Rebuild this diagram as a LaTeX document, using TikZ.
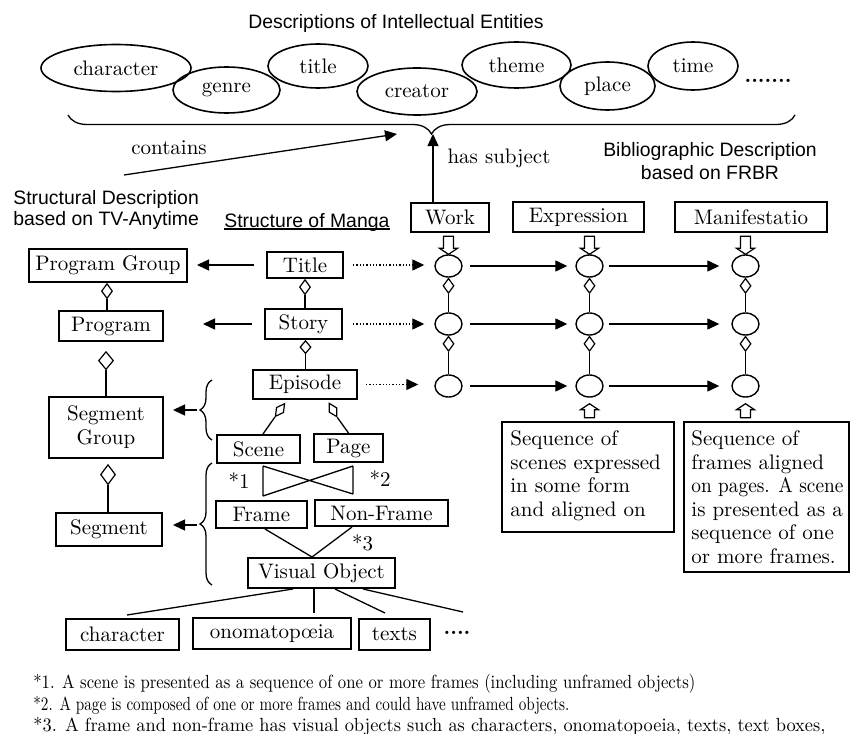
\documentclass[tikz,border=0pt]{standalone}
\usepackage{fontspec}
\setsansfont{Liberation Sans}
\usetikzlibrary{shapes.geometric,arrows.meta,decorations.pathreplacing,calc}
\begin{document}
\begin{tikzpicture}[x=0.5pt,y=-0.5pt,
  rm/.style={font=\fontsize{10.5}{12}\selectfont},
  box/.style={draw,line width=1pt,inner sep=0pt,rm},
  ell/.style={draw,ellipse,line width=0.8pt,inner sep=0pt,rm},
  circ/.style={draw,ellipse,line width=0.7pt,minimum width=13.5pt,minimum height=11pt,inner sep=0pt},
  dia/.style={draw,diamond,line width=0.6pt,minimum width=5.5pt,minimum height=7.5pt,inner sep=0pt,fill=white},
  conn/.style={line width=0.65pt},
  arr/.style={conn,-{Triangle[length=6pt,width=5.5pt]}},
  darr/.style={arr,densely dotted},
  sans/.style={inner sep=0pt,font=\sffamily\fontsize{9.7}{11}\selectfont},
  hdown/.pic={\draw[line width=0.6pt,fill=white] (-5,0) -- (5,0) -- (5,12) -- (9,12) -- (0,18) -- (-9,12) -- (-5,12) -- cycle;},
  hup/.pic={\draw[line width=0.6pt,fill=white] (0,0) -- (9,6) -- (5,6) -- (5,14) -- (-5,14) -- (-5,6) -- (-9,6) -- cycle;}
]
\useasboundingbox (0,0) rectangle (850,733);

% heading
\node[sans,anchor=base] (hdr) at (396,29) {Descriptions of Intellectual Entities};

% ellipses
\node[ell,minimum width=75pt,minimum height=23.5pt] (eChar) at (116,68) {character};
\node[ell,minimum width=53.5pt,minimum height=23pt] (eGenre) at (226.5,90) {genre};
\node[ell,minimum width=50pt,minimum height=22pt] (eTitle) at (318,66) {title};
\node[ell,minimum width=60pt,minimum height=23.5pt] (eCreator) at (417,91.5) {creator};
\node[ell,minimum width=54.5pt,minimum height=23pt] (eTheme) at (516.5,65) {theme};
\node[ell,minimum width=47.5pt,minimum height=24pt] (ePlace) at (607.5,86) {place};
\node[ell,minimum width=45pt,minimum height=24pt] (eTime) at (693,66) {time};
\node[inner sep=0pt,font=\bfseries\fontsize{10.5}{12}\selectfont] (eDots) at (768,81) {.......};

% brace
\draw[conn,decorate,decoration={brace,amplitude=9.5pt}] (795,115) -- (68,115);

% contains / has subject
\coordinate (cS) at (124,175);
\coordinate (cE) at (397,134);
\draw[arr] (cS) -- (cE);
\node[rm,anchor=base,inner sep=0pt] (lContains) at (169,155) {contains};
\coordinate (hsE) at (433,134);

% FRBR boxes
\node[box,minimum width=39pt,minimum height=14.5pt] (Work) at (450,217.5) {Work};
\node[box,minimum width=65.5pt,minimum height=15pt] (Expr) at (578.5,217) {Expression};
\node[box,minimum width=76pt,minimum height=15pt] (Manif) at (751,217) {Manifestatio};
\draw[arr] (hsE |- Work.north) -- (hsE);
\node[rm,anchor=base,inner sep=0pt] (lHas) at (499,163) {has subject};

\node[sans,anchor=north,align=center,font=\sffamily\fontsize{9.7}{11.5}\selectfont] (lBib) at (710,142) {Bibliographic Description\\based on FRBR};
\node[sans,anchor=north west,align=left,font=\sffamily\fontsize{9.7}{10.5}\selectfont] (lStruct) at (13,190) {Structural Description\\based on TV-Anytime};
\node[sans,anchor=base west] (lManga) at (224,227) {Structure of Manga};
\draw[line width=0.6pt] ($(lManga.base west)+(0,2)$) -- ($(lManga.base east)+(0,2)$);

% circle columns
\foreach \c/\x in {1/448.5,2/589.5,3/745.5} {
  \node[circ] (c\c1) at (\x,266) {};
  \node[circ] (c\c2) at (\x,324) {};
  \node[circ] (c\c3) at (\x,386) {};
  \node[dia,anchor=north] (d\c1) at (c\c1.south) {};
  \draw[conn] (d\c1.south) -- (c\c2.north);
  \node[dia,anchor=north] (d\c2) at (c\c2.south) {};
  \draw[conn] (d\c2.south) -- (c\c3.north);
  \pic at ($(c\c1.north)+(0,-18)$) {hdown};
}
\pic at ($(c23.south)+(0,6)$) {hup};
\pic at ($(c33.south)+(0,6)$) {hup};
\foreach \r in {1,2,3} {
  \draw[arr,shorten <=3.5pt,shorten >=4pt] (c1\r) -- (c2\r);
  \draw[arr,shorten <=2.5pt,shorten >=6pt] (c2\r) -- (c3\r);
}

% left column (TV-Anytime)
\node[box,minimum width=79pt,minimum height=16.5pt] (PG) at (108,265.5) {Program Group};
\node[box,minimum width=52pt,minimum height=15pt] (Prog) at (111,326) {Program};
\node[box,minimum width=57pt,minimum height=30.5pt,align=center] (SG) at (106,427.5) {Segment\\Group};
\node[box,minimum width=53pt,minimum height=16.5pt] (Seg) at (109,529.5) {Segment};
\node[dia,anchor=north] (dPG) at ($(PG.south)+(-1,0)$) {};
\draw[conn] (dPG.south) -- (dPG.south |- Prog.north);
\node[dia,minimum width=7.5pt,minimum height=9pt,anchor=north] (dProg) at ($(Prog.south)+(-5,9)$) {};
\draw[conn] (dProg.south) -- (dProg.south |- SG.north);
\node[dia,minimum width=7.5pt,minimum height=10pt,anchor=north] (dSG) at ($(SG.south)+(2,5)$) {};
\draw[conn] (dSG.south) -- (dSG.south |- Seg.north);

% manga structure
\node[box,minimum width=38pt,minimum height=13pt] (Title) at (305,265) {Title};
\node[box,minimum width=38.5pt,minimum height=15pt] (Story) at (303.5,324) {Story};
\node[box,minimum width=52pt,minimum height=14.5pt] (Episode) at (305,384.5) {Episode};
\node[box,minimum width=41.5pt,minimum height=14pt] (Scene) at (258.5,449) {Scene};
\node[box,minimum width=34.5pt,minimum height=14pt] (Page) at (348.5,448) {Page};
\node[box,minimum width=45.5pt,minimum height=13.5pt] (Frame) at (261.5,514.5) {Frame};
\node[box,minimum width=66.5pt,minimum height=13pt] (NonFrame) at (381.5,513) {Non-Frame};
\node[box,minimum width=73.5pt,minimum height=15pt] (VO) at (321.5,573) {Visual Object};
\node[box,minimum width=56.5pt,minimum height=15.5pt] (vChar) at (122.5,634.5) {character};
\node[box,minimum width=79pt,minimum height=15.5pt] (vOno) at (272,633.5) {onomatop\oe ia};
\node[box,minimum width=35.5pt,minimum height=15.5pt] (vTexts) at (394.5,634.5) {texts};
\node[inner sep=0pt,font=\bfseries\fontsize{10.5}{12}\selectfont] (vDots) at (457,633) {....};

\node[dia,anchor=north] (dTitle) at (Title.south) {};
\draw[conn] (dTitle.south) -- (dTitle.south |- Story.north);
\node[dia,minimum height=6.5pt,anchor=north] (dStory) at ($(Story.south)+(2,0)$) {};
\draw[conn] (dStory.south) -- (dStory.south |- Episode.north);
\node[dia,minimum width=8pt,minimum height=4.5pt,rotate=54] (dEL) at (280,410) {};
\draw[conn] (dEL.west) -- ($(Scene.north)+(4.5,0)$);
\node[dia,minimum width=8pt,minimum height=4.5pt,rotate=120] (dER) at (333,410) {};
\draw[conn] (dER.west) -- (Page.north);

% horizontal arrows
\draw[arr,shorten <=6pt,shorten >=4.5pt] (Title.west) -- (Title.west -| PG.east);
\draw[arr,shorten <=6pt,shorten >=19.5pt] (Story.west) -- (Story.west -| Prog.east);
\draw[darr,shorten <=4.5pt,shorten >=5pt] (Title.east) -- (Title.east -| c11.west);
\draw[darr,shorten <=5pt,shorten >=5pt] (Story.east) -- (Story.east -| c12.west);
\draw[darr,shorten <=4pt,shorten >=8pt] (Episode.east) -- (Episode.east -| c13.west);

% left braces
\draw[conn,decorate,decoration={brace,amplitude=6pt}] (212,440) -- (212,380);
\draw[conn,decorate,decoration={brace,amplitude=6pt}] (212,585) -- (212,463);
\coordinate (bt1) at (197,410);
\coordinate (bt2) at (197,525);
\draw[arr,shorten >=4.5pt] (bt1) -- (bt1 -| SG.east);
\draw[arr,shorten >=5pt] (bt2) -- (bt2 -| Seg.east);

% cross
\coordinate (xA) at ($(Scene.south)+(4.5,2)$);
\coordinate (xB) at ($(Page.south)+(4.5,3)$);
\coordinate (xC) at ($(Frame.north)+(1.5,-4)$);
\coordinate (xD) at ($(NonFrame.north)+(-28.5,-5)$);
\draw[conn] (xA) -- (xC) (xB) -- (xD) (xA) -- (xD) (xB) -- (xC);
\node[rm,anchor=base,inner sep=0pt] (n1) at (239,488) {*1};
\node[rm,anchor=base,inner sep=0pt] (n2) at (380,486) {*2};
\node[rm,anchor=base,inner sep=0pt] (n3) at (362.5,550) {*3};

% to visual object
\draw[conn] ($(Frame.south)+(3.5,0)$) -- ($(VO.north)+(-9.5,0)$);
\draw[conn] ($(NonFrame.south)+(-29.5,0)$) -- ($(VO.north)+(-9.5,0)$);
\draw[conn] ($(VO.south)+(-28.5,0)$) -- ($(vChar.north)+(4.5,-3)$);
\draw[conn] ($(VO.south)+(-7.5,0)$) -- ($(vOno.north)+(42,-4)$);
\draw[conn] ($(VO.south)+(13.5,0)$) -- ($(vTexts.north)+(-9.5,-5)$);
\coordinate (vMore) at (463,612);
\draw[conn] ($(VO.south)+(41.5,0)$) -- (vMore);

% right text boxes
\node[box,minimum width=86pt,minimum height=55pt] (tb1) at (588,477) {};
\node[anchor=north west,align=left,inner sep=0pt,font=\fontsize{10.5}{11.75}\selectfont] (tb1t) at (510,430.5) {Sequence of\\scenes expressed\\in some form\\and aligned on};
\node[box,minimum width=82.5pt,minimum height=75pt] (tb2) at (766.5,497) {};
\node[anchor=north west,align=left,inner sep=0pt,font=\fontsize{10.5}{11.75}\selectfont] (tb2t) at (691,430.5) {Sequence of\\frames aligned\\\resizebox{76pt}{\height}{on pages. A scene}\\is presented as a\\sequence of one\\or more frames.};

% footnotes
\node[anchor=base west,inner sep=0pt] (fn1) at (33,688) {\resizebox{331pt}{\height}{\fontsize{9.5}{11}\selectfont *1. A scene is presented as a sequence of one or more frames (including unframed objects)}};
\node[anchor=base west,inner sep=0pt] (fn2) at (33,710) {\resizebox{268pt}{\height}{\fontsize{9.5}{11}\selectfont *2. A page is composed of one or more frames and could have unframed objects.}};
\node[anchor=base west,inner sep=0pt] (fn3) at (33,731) {\resizebox{396pt}{\height}{\fontsize{9.5}{11}\selectfont *3. A frame and non-frame has visual objects such as characters, onomatopoeia, texts, text boxes,}};
\end{tikzpicture}
\end{document}
